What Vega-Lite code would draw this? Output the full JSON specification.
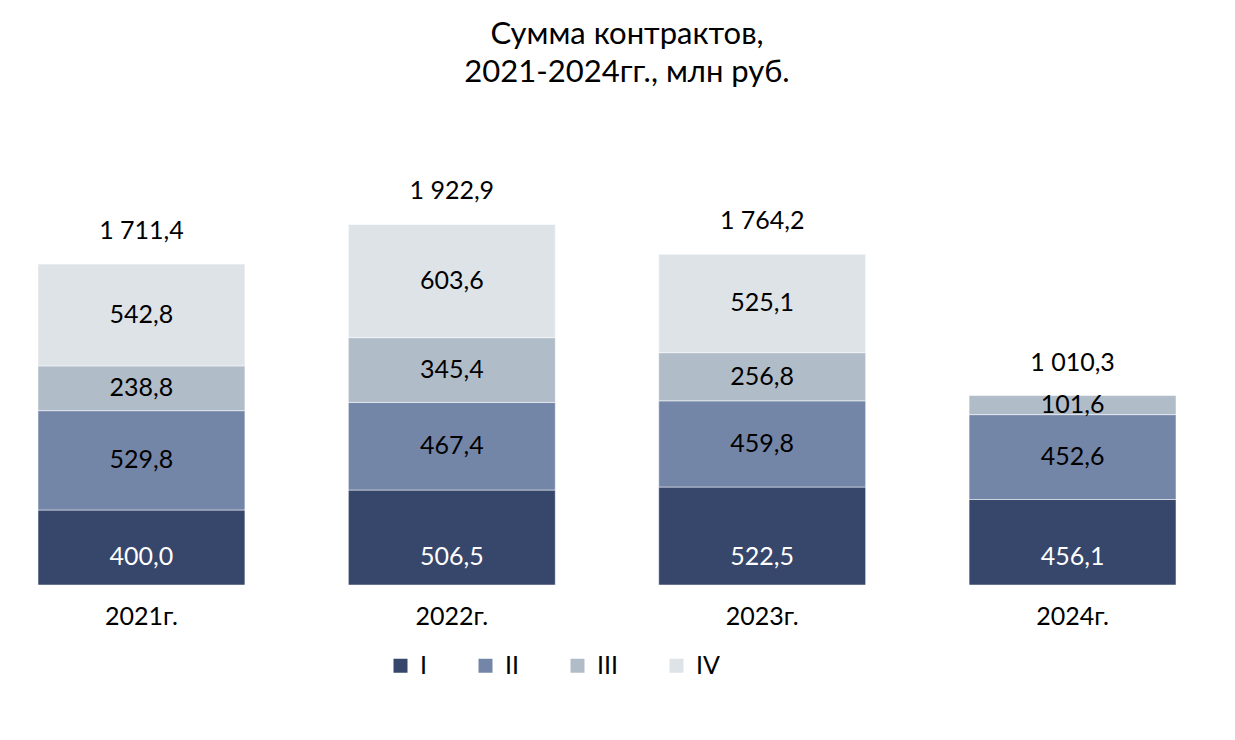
{
  "$schema": "https://vega.github.io/schema/vega-lite/v6.json",
  "autosize": "none",
  "padding": {"left": 0, "top": 135, "right": 21, "bottom": 155},
  "width": 1214,
  "height": 450,
  "background": "white",
  "config": {
    "locale": {"number": {"decimal": ",", "thousands": " ", "grouping": [3], "currency": ["", " ₽"]}},
    "view": {"stroke": null},
    "font": "Lato"
  },
  "title": {
    "text": ["Сумма контрактов,", "2021-2024гг., млн руб."],
    "fontSize": 31,
    "fontWeight": "normal",
    "lineHeight": 38,
    "offset": 46,
    "dx": 20,
    "color": "black"
  },
  "data": {
    "values": [
      {"year": "2021г.", "q": "I", "order": 1, "value": 400.0},
      {"year": "2021г.", "q": "II", "order": 2, "value": 529.8},
      {"year": "2021г.", "q": "III", "order": 3, "value": 238.8},
      {"year": "2021г.", "q": "IV", "order": 4, "value": 542.8},
      {"year": "2022г.", "q": "I", "order": 1, "value": 506.5},
      {"year": "2022г.", "q": "II", "order": 2, "value": 467.4},
      {"year": "2022г.", "q": "III", "order": 3, "value": 345.4},
      {"year": "2022г.", "q": "IV", "order": 4, "value": 603.6},
      {"year": "2023г.", "q": "I", "order": 1, "value": 522.5},
      {"year": "2023г.", "q": "II", "order": 2, "value": 459.8},
      {"year": "2023г.", "q": "III", "order": 3, "value": 256.8},
      {"year": "2023г.", "q": "IV", "order": 4, "value": 525.1},
      {"year": "2024г.", "q": "I", "order": 1, "value": 456.1},
      {"year": "2024г.", "q": "II", "order": 2, "value": 452.6},
      {"year": "2024г.", "q": "III", "order": 3, "value": 101.6}
    ]
  },
  "encoding": {
    "x": {
      "field": "year",
      "type": "nominal",
      "title": null,
      "scale": {"paddingInner": 0.3333, "paddingOuter": 0.1224},
      "axis": {"domain": false, "ticks": false, "labelAngle": 0, "labelFontSize": 25, "labelPadding": 19, "labelColor": "black", "labelFont": "Lato"}
    }
  },
  "layer": [
    {
      "transform": [
        {"stack": "value", "groupby": ["year"], "sort": [{"field": "order"}], "as": ["y0", "y1"]},
        {"calculate": "(datum.y0 + datum.y1) / 2", "as": "ymid"}
      ],
      "layer": [
        {
          "mark": {"type": "bar", "stroke": "white", "strokeWidth": 0.5},
          "encoding": {
            "y": {"field": "y0", "type": "quantitative", "scale": {"domain": [0, 2400]}, "axis": null},
            "y2": {"field": "y1"},
            "color": {
              "field": "q",
              "type": "nominal",
              "sort": ["I", "II", "III", "IV"],
              "scale": {"domain": ["I", "II", "III", "IV"], "range": ["#37466b", "#7486a8", "#b0bcc8", "#dee3e8"]},
              "legend": {
                "title": null,
                "orient": "none",
                "direction": "horizontal",
                "legendX": 388,
                "legendY": 518,
                "padding": 0,
                "symbolType": "square",
                "symbolSize": 196,
                "symbolStrokeWidth": 0,
                "labelFontSize": 25,
                "labelColor": "black",
                "labelOffset": 7,
                "columnPadding": 45
              }
            }
          }
        },
        {
          "transform": [{"filter": "datum.q !== 'I'"}],
          "mark": {"type": "text", "fontSize": 25, "baseline": "middle", "color": "black"},
          "encoding": {
            "y": {"field": "ymid", "type": "quantitative"},
            "text": {"field": "value", "type": "quantitative", "format": ",.1f"}
          }
        },
        {
          "transform": [{"filter": "datum.q === 'I'"}],
          "mark": {"type": "text", "fontSize": 25, "baseline": "middle", "color": "white", "dy": -28},
          "encoding": {
            "y": {"datum": 0, "type": "quantitative"},
            "text": {"field": "value", "type": "quantitative", "format": ",.1f"}
          }
        }
      ]
    },
    {
      "transform": [
        {"aggregate": [{"op": "sum", "field": "value", "as": "total"}], "groupby": ["year"]}
      ],
      "mark": {"type": "text", "fontSize": 25, "baseline": "middle", "dy": -33, "color": "black"},
      "encoding": {
        "y": {"field": "total", "type": "quantitative"},
        "text": {"field": "total", "type": "quantitative", "format": ",.1f"}
      }
    }
  ]
}
